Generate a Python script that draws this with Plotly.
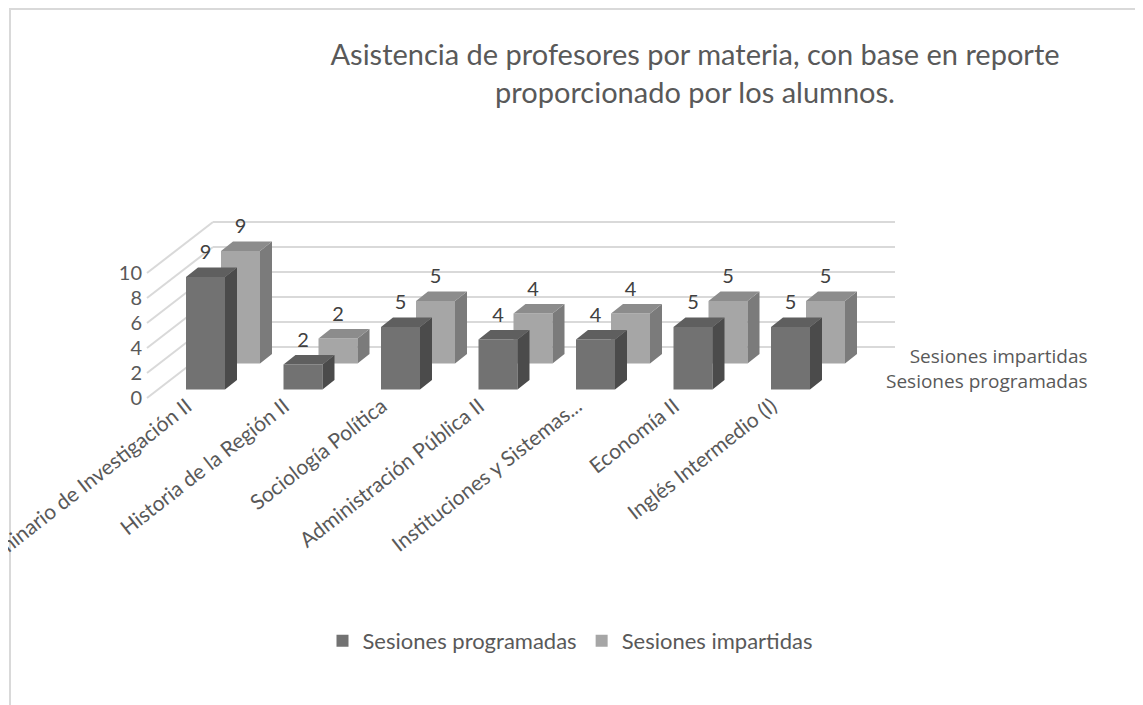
import plotly.graph_objects as go

# ---------------- data ----------------
categories = ["Seminario de Investigación II", "Historia de la Región II", "Sociología Política",
              "Administración Pública II", "Instituciones y Sistemas...", "Economía II",
              "Inglés Intermedio (I)"]
programadas = [9, 2, 5, 4, 4, 5, 5]
impartidas = [9, 2, 5, 4, 4, 5, 5]
y_ticks = [0, 2, 4, 6, 8, 10]
title_text = "Asistencia de profesores por materia, con base en reporte<br>proporcionado por los alumnos."
series_names = ["Sesiones programadas", "Sesiones impartidas"]

# ---------------- geometry / style ----------------
W, H = 1143, 705
OFF = 8  # page body margin
PLOT_BOTTOM_SCREEN = 401
ML, MR, MT = 135, 251, 192
MB = H - (PLOT_BOTTOM_SCREEN - OFF)
PX_PER_CAT = 97.5
PX_PER_UNIT = 12.5
CAT0_PX = 197.5
ZERO_PX = 390
X_RANGE = [(ML - CAT0_PX) / PX_PER_CAT, (W - MR - CAT0_PX) / PX_PER_CAT]
Y_RANGE = [(ZERO_PX - (H - MB)) / PX_PER_UNIT, (ZERO_PX - MT) / PX_PER_UNIT]
PW, PH = W - ML - MR, H - MT - MB


def xp(sx):
    return (sx - OFF - ML) / PW


def yp(sy):
    return ((H - MB) - (sy - OFF)) / PH


BAR_W = 0.40
DEPTH_DX = 0.123
DEPTH_DY = 0.76
FRONT_BASE = 0.68
BACK_DX = 0.359
BACK_DY = 2.08
WALL_DX = 0.677
WALL_DY = 4.08
LEFT_X = (147 - OFF - CAT0_PX) / PX_PER_CAT
WALL_RIGHT = (895 - OFF - CAT0_PX) / PX_PER_CAT

FONT = "Lato"
TXT = "#595959"
GRID = "#d9d9d9"

styles = {
    "front": dict(face="#727272", top="#5f5f5f", side="#4b4b4b"),
    "back": dict(face="#a6a6a6", top="#8c8c8c", side="#7b7b7b"),
}

fig = go.Figure()


def add_series(values, name, xoff, base, st, rank):
    xs = [i + xoff for i in range(len(values))]
    fig.add_trace(go.Bar(x=xs, y=values, base=[base] * len(values), width=BAR_W, name=name,
                         marker=dict(color=st["face"], line=dict(width=0)),
                         legendrank=rank, hoverinfo="skip"))
    tx, ty, sx, sy = [], [], [], []
    hw = BAR_W / 2
    for cx, v in zip(xs, values):
        t = base + v
        tx += [cx - hw, cx + hw, cx + hw + DEPTH_DX, cx - hw + DEPTH_DX, cx - hw, None]
        ty += [t, t, t + DEPTH_DY, t + DEPTH_DY, t, None]
        sx += [cx + hw, cx + hw + DEPTH_DX, cx + hw + DEPTH_DX, cx + hw, cx + hw, None]
        sy += [base, base + DEPTH_DY, t + DEPTH_DY, t, base, None]
    fig.add_trace(go.Scatter(x=sx, y=sy, mode="lines", fill="toself", fillcolor=st["side"],
                             line=dict(width=0, color=st["side"]), showlegend=False, hoverinfo="skip"))
    fig.add_trace(go.Scatter(x=tx, y=ty, mode="lines", fill="toself", fillcolor=st["top"],
                             line=dict(width=0, color=st["top"]), showlegend=False, hoverinfo="skip"))
    fig.add_trace(go.Scatter(x=xs, y=[base + v + DEPTH_DY + 1.05 for v in values],
                             mode="text", text=[str(v) for v in values],
                             textfont=dict(family=FONT, size=20, color="#404040"),
                             showlegend=False, hoverinfo="skip"))


# back row first (drawn behind), then front row
add_series(impartidas, series_names[1], BACK_DX, FRONT_BASE + BACK_DY, styles["back"], 2)
add_series(programadas, series_names[0], 0.0, FRONT_BASE, styles["front"], 1)

# gridlines on back wall and side wall
shapes = []
for v in y_ticks:
    shapes.append(dict(type="line", xref="x", yref="y", x0=LEFT_X + WALL_DX, x1=WALL_RIGHT,
                       y0=v + WALL_DY, y1=v + WALL_DY, line=dict(color=GRID, width=2), layer="below"))
    shapes.append(dict(type="line", xref="x", yref="y", x0=LEFT_X, x1=LEFT_X + WALL_DX,
                       y0=v, y1=v + WALL_DY, line=dict(color=GRID, width=2), layer="below"))
# chart border
shapes.append(dict(type="rect", xref="paper", yref="paper", x0=xp(10), x1=xp(1141), y0=yp(720), y1=yp(9),
                   line=dict(color=GRID, width=2), fillcolor="rgba(0,0,0,0)", layer="below"))

annotations = [
    dict(xref="paper", yref="paper", x=xp(1090), y=yp(368), xanchor="right", yanchor="middle",
         align="right", text=series_names[1] + "<br>" + series_names[0], showarrow=False,
         font=dict(family="Open Sans", size=19, color=TXT)),
]

fig.update_layout(
    width=W, height=H,
    margin=dict(l=ML, r=MR, t=MT, b=MB, autoexpand=False),
    paper_bgcolor="white", plot_bgcolor="white",
    barmode="overlay",
    title=dict(text=title_text, x=(695 - OFF) / W, xanchor="center", xref="container",
               y=1 - 57 / H, yanchor="top", yref="container",
               font=dict(family=FONT, size=29, color=TXT)),
    xaxis=dict(range=X_RANGE, tickmode="array", tickvals=[i - 0.19 for i in range(len(categories))],
               ticktext=categories, tickangle=-38, showgrid=False, zeroline=False, showline=False,
               ticks="", ticklabeloverflow="allow", automargin=False, ticklabelstandoff=-12,
               tickfont=dict(family=FONT, size=21, color=TXT), fixedrange=True),
    yaxis=dict(range=Y_RANGE, tickmode="array", tickvals=y_ticks, showgrid=False, zeroline=False,
               showline=False, ticks="", automargin=False,
               tickfont=dict(family=FONT, size=20, color=TXT), fixedrange=True),
    legend=dict(orientation="h", x=xp(570), xanchor="center", y=yp(641), yanchor="middle",
                font=dict(family=FONT, size=22, color=TXT), traceorder="normal"),
    shapes=shapes,
    annotations=annotations,
    showlegend=True,
)

fig.write_html("out.html")
